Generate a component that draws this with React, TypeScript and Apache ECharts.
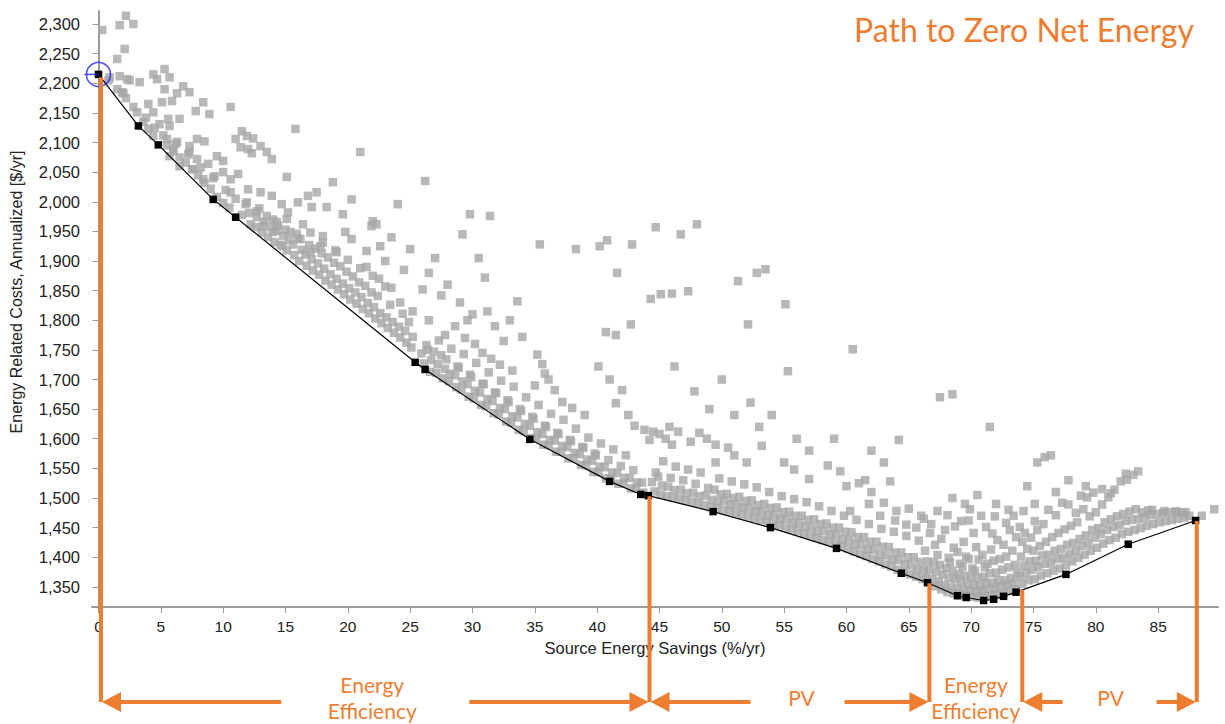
import React, { useEffect, useRef } from "react";
import * as echarts from "echarts";

// ---------- DATA ----------
const xTicks = [0, 5, 10, 15, 20, 25, 30, 35, 40, 45, 50, 55, 60, 65, 70, 75, 80, 85];
const yTicks = [1350, 1400, 1450, 1500, 1550, 1600, 1650, 1700, 1750, 1800, 1850, 1900, 1950, 2000, 2050, 2100, 2150, 2200, 2250, 2300];

// optimal path (Pareto front)
const frontier: [number, number][] = [
  [0, 2215], [3.2, 2128], [4.8, 2096], [9.2, 2004], [11.0, 1974], [25.4, 1729], [26.2, 1717],
  [34.6, 1599], [41.0, 1528], [43.5, 1506], [44.1, 1504], [49.3, 1477], [53.9, 1450],
  [59.2, 1415], [64.4, 1373], [66.5, 1357], [68.9, 1335], [69.6, 1332], [71.0, 1327],
  [71.8, 1329], [72.6, 1334], [73.6, 1341], [77.6, 1371], [82.6, 1422], [88.0, 1462],
];

// base case (selected point)
const baseline: [number, number][] = [[0, 2215]];

// all simulated designs
const cloudTopLeft: [number, number][] = [
  [0.3, 2290], [1.7, 2298], [2.2, 2314], [2.8, 2300], [2.1, 2258], [1.5, 2241],
  [0.9, 2210], [1.7, 2212], [2.3, 2207], [2.5, 2205], [3.3, 2202], [2.0, 2183], [1.9, 2185],
  [4.4, 2215], [4.7, 2207], [5.3, 2224], [5.7, 2210], [5.3, 2190], [6.3, 2183], [6.8, 2195], [7.3, 2185],
  [4.0, 2165], [5.1, 2168], [5.9, 2170], [8.4, 2168], [7.8, 2153], [8.9, 2148], [10.6, 2160],
  [3.1, 2151], [4.4, 2151], [5.6, 2140], [6.5, 2140], [4.9, 2131], [5.7, 2128],
  [15.8, 2123], [11.5, 2119], [11.9, 2111], [11.0, 2106], [12.4, 2107], [11.4, 2092], [13.0, 2094],
  [13.5, 2084], [12.3, 2082], [12.0, 2089], [13.9, 2072], [21.0, 2084],
  [4.0, 2123], [4.4, 2111], [5.5, 2106], [6.3, 2101], [7.9, 2106], [8.5, 2102], [7.3, 2094], [6.0, 2089],
  [7.3, 2084], [7.9, 2072], [9.5, 2077], [10.0, 2069], [8.8, 2064], [10.0, 2050], [11.2, 2047],
  [10.6, 2038], [9.3, 2043], [8.4, 2038], [7.6, 2055], [6.5, 2060], [5.7, 2077],
  [15.1, 2042], [13.0, 2016], [13.9, 2010], [16.8, 2010], [17.5, 2016], [18.8, 2033], [14.7, 1996],
  [16.0, 1999], [17.1, 1991], [18.3, 1991], [20.3, 2004], [19.6, 1979], [22.0, 1967],
  [12.0, 2021], [10.6, 2016], [11.9, 1999], [12.7, 1984], [13.5, 1976], [14.3, 1966], [15.1, 1971],
  [13.2, 1959], [14.0, 1949], [15.4, 1949], [16.2, 1937], [14.8, 1925], [18.0, 1942], [17.8, 1925],
  [19.8, 1949], [20.3, 1937], [21.5, 1917], [22.6, 1925], [21.9, 1959], [17.0, 1915], [19.1, 1915],
];

const cloudBandA: [number, number][] = [
  [0.8, 2205], [1.5, 2190], [2.2, 2175], [2.8, 2160], [3.6, 2135], [3.8, 2142], [4.5, 2125], [5.2, 2112],
  [5.5, 2095], [6.0, 2085], [6.2, 2098], [6.5, 2075], [7.0, 2066], [7.2, 2080], [7.5, 2055], [8.0, 2045],
  [8.2, 2058], [8.5, 2032], [9.0, 2022], [9.2, 2040], [9.5, 2008], [10.0, 1998], [10.2, 2020], [10.5, 1990],
  [11.0, 2005], [11.5, 1978],
];

const cloudBandB: [number, number][] = [
  [12.2, 1962], [12.1, 1981], [11.8, 1996], [12.6, 1957], [12.7, 1974], [13.1, 1948], [13.3, 1966], [12.9, 1989],
  [13.6, 1941], [13.8, 1957], [14.1, 1932], [14.3, 1951], [14.0, 1970], [14.6, 1927], [14.8, 1942], [14.4, 1960],
  [15.1, 1918], [15.3, 1936], [15.0, 1953], [15.2, 1982], [15.7, 1910], [15.6, 1928], [15.9, 1946],
  [16.1, 1900], [16.3, 1919], [16.0, 1938], [16.4, 1962], [16.7, 1892], [16.6, 1911], [16.9, 1927],
  [17.2, 1884], [17.1, 1903], [17.4, 1921], [17.0, 1948], [17.7, 1877], [17.6, 1896], [17.9, 1913],
  [18.2, 1867], [18.1, 1887], [18.4, 1906], [18.0, 1931], [18.7, 1860], [18.6, 1878], [18.9, 1897],
  [19.2, 1852], [19.1, 1870], [19.4, 1891], [19.0, 1918], [19.7, 1844], [19.6, 1862], [19.9, 1882],
  [20.2, 1835], [20.1, 1854], [20.4, 1874], [20.0, 1902], [20.7, 1828], [20.6, 1847], [20.9, 1864],
  [21.2, 1819], [21.1, 1839], [21.4, 1858], [21.0, 1888], [21.7, 1812], [21.6, 1829], [21.9, 1847],
  [22.2, 1803], [22.1, 1822], [22.4, 1841], [22.0, 1875], [22.7, 1795], [22.6, 1812], [23.2, 1787], [23.1, 1805],
  [23.4, 1826], [23.0, 1857], [23.7, 1779], [23.6, 1797], [24.2, 1771], [24.1, 1789], [24.4, 1811],
  [24.7, 1762], [24.6, 1782], [25.1, 1754], [25.2, 1772], [24.9, 1797],
];

const cloudBandC: [number, number][] = [
  [26.1, 1727], [25.9, 1744], [26.3, 1758], [26.6, 1713], [26.7, 1733], [26.4, 1750], [27.1, 1711], [27.2, 1726],
  [26.9, 1747], [27.3, 1766], [27.6, 1702], [27.8, 1718], [27.5, 1741], [28.1, 1697], [28.2, 1710], [27.9, 1734],
  [28.3, 1752], [28.7, 1687], [28.6, 1707], [28.8, 1722], [29.1, 1683], [29.2, 1697], [28.9, 1720], [29.3, 1743],
  [29.7, 1671], [29.6, 1692], [29.8, 1708], [30.1, 1668], [30.2, 1681], [29.9, 1704], [30.3, 1728], [30.7, 1657],
  [30.6, 1678], [30.8, 1693], [31.1, 1655], [31.2, 1667], [30.9, 1692], [31.3, 1712], [31.7, 1643], [31.6, 1664],
  [31.8, 1678], [32.1, 1641], [32.2, 1652], [31.9, 1677], [32.3, 1698], [32.7, 1629], [32.6, 1650], [32.8, 1665],
  [33.1, 1627], [33.2, 1638], [32.9, 1662], [33.3, 1688], [33.7, 1615], [33.6, 1636], [33.8, 1650], [34.1, 1613],
  [34.2, 1625], [33.9, 1647], [34.3, 1670], [34.7, 1601], [34.6, 1622], [34.8, 1637], [35.1, 1600], [35.2, 1611],
  [34.9, 1634], [35.3, 1657], [35.7, 1590], [35.6, 1608], [35.8, 1622], [36.1, 1589], [36.2, 1598], [35.9, 1620],
  [36.3, 1642], [36.7, 1578], [36.6, 1597], [36.8, 1610], [37.1, 1578], [37.2, 1588], [36.9, 1608], [37.3, 1632],
  [37.7, 1567], [37.6, 1586], [37.8, 1598], [38.1, 1567], [38.2, 1576], [37.9, 1596], [38.3, 1617], [38.7, 1556],
  [38.6, 1574], [38.8, 1586], [39.1, 1555], [39.2, 1565], [38.9, 1585], [39.3, 1602], [39.7, 1544], [39.6, 1563],
  [39.8, 1575], [40.1, 1544], [40.2, 1553], [39.9, 1572], [40.3, 1592], [40.7, 1533], [40.6, 1552], [41.1, 1533],
  [41.2, 1543], [40.9, 1564], [41.3, 1582], [41.7, 1524], [41.6, 1542], [42.1, 1525], [42.2, 1534], [41.9, 1554],
  [42.3, 1572], [42.7, 1516], [42.6, 1534], [43.1, 1517], [43.2, 1526], [42.9, 1547], [43.7, 1509], [43.6, 1526],
];

const cloudUpperMid: [number, number][] = [
  [26.2, 2035], [24.0, 1996], [22.3, 1962], [23.5, 1940], [25.0, 1920], [24.5, 1885], [27.0, 1905],
  [26.5, 1880], [28.0, 1860], [27.5, 1842], [26.0, 1852], [29.0, 1830], [29.8, 1979], [29.2, 1945],
  [31.4, 1976], [30.5, 1905], [31.0, 1872], [30.0, 1810], [31.8, 1790], [33.0, 1800], [32.5, 1765],
  [34.0, 1772], [35.4, 1928], [33.6, 1832], [35.2, 1742], [35.6, 1726], [35.8, 1710], [36.1, 1700],
  [35.0, 1690], [36.6, 1682], [37.2, 1662], [38.0, 1652], [39.0, 1640], [38.3, 1920], [40.2, 1925],
  [40.8, 1935], [42.8, 1928], [41.6, 1880], [40.7, 1780], [41.5, 1775], [42.7, 1793], [40.1, 1722],
  [41.0, 1700], [42.0, 1682], [41.5, 1660], [42.5, 1640], [43.0, 1622], [43.8, 1615], [44.5, 1612],
  [45.0, 1608], [44.2, 1598], [45.5, 1600], [46.0, 1590],
  [27.8, 1775], [28.6, 1790], [29.4, 1770], [30.2, 1760], [30.8, 1745], [31.5, 1735], [32.2, 1725],
  [33.2, 1715], [29.6, 1800], [31.2, 1815],
  [21.5, 1890], [22.5, 1870], [23.5, 1855], [24.2, 1830], [25.2, 1815], [26.5, 1800], [23.0, 1900],
];

const cloudBandD: [number, number][] = [
  [44.6, 1511], [44.4, 1527], [44.7, 1543], [45.1, 1506], [45.2, 1521], [44.9, 1536], [45.3, 1562], [45.6, 1503],
  [45.7, 1519], [46.1, 1501], [46.2, 1513], [45.9, 1534], [46.3, 1553], [46.6, 1499], [46.7, 1514], [47.1, 1496],
  [47.2, 1508], [46.9, 1530], [47.3, 1548], [47.6, 1494], [47.7, 1509], [48.1, 1491], [48.2, 1503], [47.9, 1524],
  [48.3, 1543], [48.6, 1488], [48.7, 1504], [49.1, 1485], [49.2, 1497], [48.9, 1517], [49.6, 1483], [49.7, 1494],
  [49.4, 1514], [49.8, 1533], [50.1, 1480], [50.2, 1495], [49.9, 1506], [50.6, 1478], [50.7, 1489], [50.4, 1507],
  [50.8, 1528], [51.1, 1475], [51.2, 1489], [50.9, 1500], [51.6, 1472], [51.7, 1484], [51.4, 1502], [51.8, 1523],
  [52.1, 1469], [52.2, 1483], [51.9, 1495], [52.6, 1466], [52.7, 1478], [52.4, 1496], [52.8, 1518], [53.1, 1463],
  [53.2, 1477], [52.9, 1488], [53.6, 1460], [53.7, 1471], [53.4, 1490], [53.8, 1510], [54.1, 1457], [54.2, 1471],
  [53.9, 1483], [54.6, 1454], [54.7, 1465], [54.4, 1484], [54.8, 1503], [55.1, 1450], [55.2, 1464], [54.9, 1476],
  [55.6, 1447], [55.7, 1458], [55.4, 1477], [55.8, 1498], [56.1, 1444], [56.2, 1458], [55.9, 1470], [56.6, 1440],
  [56.7, 1452], [56.4, 1470], [56.8, 1493], [57.1, 1437], [57.2, 1451], [56.9, 1463], [57.6, 1433], [57.7, 1444],
  [57.4, 1464], [57.8, 1486], [58.1, 1429], [58.2, 1444], [57.9, 1456], [58.6, 1426], [58.7, 1438], [58.4, 1457],
  [58.8, 1478], [59.1, 1423], [59.2, 1437], [58.9, 1450], [59.6, 1419], [59.7, 1430], [59.4, 1450], [59.8, 1470],
  [60.1, 1415], [60.2, 1429], [59.9, 1443], [60.6, 1410], [60.7, 1422], [60.4, 1442], [60.8, 1463], [61.1, 1406],
  [61.2, 1421], [60.9, 1434], [61.6, 1402], [61.7, 1413], [61.4, 1434], [61.8, 1456], [62.1, 1397], [62.2, 1412],
  [61.9, 1426], [62.6, 1393], [62.7, 1404], [62.4, 1426], [62.8, 1448], [63.1, 1388], [63.2, 1403], [62.9, 1418],
  [63.6, 1384], [63.7, 1396], [63.4, 1417], [63.8, 1443], [64.1, 1379], [64.2, 1395], [63.9, 1408], [64.6, 1375],
  [64.7, 1388], [64.4, 1408], [64.8, 1436], [65.1, 1371], [65.2, 1386], [64.9, 1400], [65.6, 1367], [65.7, 1379],
  [65.4, 1400], [65.8, 1428], [66.1, 1363], [66.2, 1378], [65.9, 1392],
];

const cloudUpperRight: [number, number][] = [
  [44.7, 1957], [46.7, 1945], [48.0, 1962], [44.3, 1836], [45.1, 1844], [46.0, 1845], [47.3, 1849],
  [51.3, 1866], [52.8, 1880], [53.5, 1886], [52.1, 1793], [55.1, 1827], [55.3, 1714], [60.5, 1751],
  [52.3, 1661], [50.0, 1700], [47.8, 1680], [46.2, 1722], [49.0, 1650], [51.0, 1640], [53.0, 1620],
  [54.0, 1640], [56.0, 1600], [57.0, 1580], [59.0, 1600], [62.0, 1580], [63.0, 1560], [64.2, 1598],
  [48.2, 1610], [48.8, 1600], [49.5, 1590], [47.5, 1595], [46.5, 1612], [45.8, 1620],
  [49.5, 1560], [50.5, 1585], [51.0, 1572], [52.0, 1560], [53.2, 1588], [55.0, 1560], [55.8, 1548],
  [57.0, 1532], [58.5, 1555], [59.5, 1545], [60.0, 1520], [61.0, 1525], [62.0, 1510], [63.0, 1492],
  [64.0, 1478], [65.0, 1482], [66.0, 1470], [61.5, 1530], [63.5, 1528],
  [67.5, 1670], [68.5, 1675], [71.5, 1620],
  [60.3, 1478], [61.8, 1490], [62.7, 1470], [63.9, 1462], [64.8, 1455], [65.6, 1450], [66.2, 1465],
  [67.3, 1478], [68.7, 1452], [69.8, 1462], [70.8, 1470], [71.7, 1440], [72.8, 1458], [73.4, 1470],
  [74.2, 1478], [75.1, 1490], [76.2, 1480], [77.3, 1492], [78.4, 1475],
];

const cloudBottom: [number, number][] = [
  [66.4, 1365], [66.6, 1379], [66.5, 1393], [66.3, 1411], [66.7, 1441],
  [67.1, 1351], [66.9, 1363], [67.2, 1376], [67.0, 1391], [67.1, 1421], [66.8, 1456],
  [67.6, 1346], [67.4, 1359], [67.7, 1371], [67.5, 1387], [67.3, 1404], [67.6, 1431],
  [68.1, 1341], [67.9, 1353], [68.2, 1365], [68.0, 1381], [68.2, 1399], [67.9, 1446], [68.1, 1471],
  [68.6, 1339], [68.4, 1349], [68.7, 1363], [68.5, 1377], [68.3, 1391], [68.6, 1416],
  [69.1, 1337], [68.9, 1347], [69.2, 1359], [69.0, 1371], [69.1, 1389], [68.9, 1409], [69.2, 1461],
  [69.6, 1335], [69.4, 1345], [69.7, 1355], [69.5, 1369], [69.3, 1384], [69.6, 1401], [69.4, 1426],
  [70.1, 1333], [69.9, 1343], [70.2, 1353], [70.0, 1367], [70.1, 1381], [69.8, 1397], [70.2, 1441], [69.9, 1481],
  [70.6, 1332], [70.4, 1341], [70.7, 1351], [70.5, 1365], [70.3, 1377], [70.6, 1396], [70.4, 1417],
  [71.1, 1334], [70.9, 1344], [71.2, 1356], [71.0, 1367], [71.1, 1383], [70.9, 1404], [71.2, 1451],
  [71.6, 1335], [71.4, 1346], [71.7, 1357], [71.5, 1373], [71.3, 1389], [71.6, 1413],
  [72.1, 1337], [71.9, 1347], [72.2, 1361], [72.0, 1374], [71.8, 1394], [72.1, 1429], [71.9, 1469],
  [72.6, 1339], [72.4, 1351], [72.7, 1361], [72.5, 1379], [72.3, 1397], [72.6, 1421],
  [73.1, 1343], [72.9, 1354], [73.2, 1365], [73.0, 1383], [72.8, 1401], [73.1, 1446],
  [73.6, 1346], [73.4, 1357], [73.7, 1373], [73.5, 1387], [73.3, 1411], [73.6, 1434],
];

const cloudBandF: [number, number][] = [
  [74.1, 1355], [73.9, 1368], [74.2, 1386], [74.0, 1401], [74.1, 1426], [73.9, 1451],
  [74.6, 1361], [74.4, 1374], [74.7, 1393], [74.5, 1414], [74.3, 1441],
  [75.1, 1363], [74.9, 1379], [75.2, 1394], [75.0, 1411], [74.8, 1433], [75.1, 1461],
  [75.6, 1369], [75.4, 1384], [75.7, 1403], [75.5, 1419], [75.3, 1446],
  [76.1, 1373], [75.9, 1389], [76.2, 1404], [76.0, 1426], [75.8, 1456],
  [76.6, 1377], [76.4, 1391], [76.7, 1411], [76.5, 1434],
  [77.1, 1381], [76.9, 1397], [77.2, 1414], [77.0, 1441], [76.8, 1471],
  [77.6, 1386], [77.4, 1399], [77.7, 1421], [77.5, 1447],
  [78.1, 1393], [77.9, 1406], [78.2, 1424], [78.0, 1453], [77.8, 1489],
  [78.6, 1399], [78.4, 1411], [78.7, 1431], [78.5, 1459],
  [79.1, 1404], [78.9, 1419], [79.2, 1437], [79.0, 1481], [78.8, 1504],
  [79.6, 1411], [79.4, 1424], [79.7, 1446], [79.5, 1469], [79.3, 1501],
  [80.1, 1416], [79.9, 1433], [80.2, 1449], [80.0, 1476], [79.8, 1509],
  [80.6, 1423], [80.4, 1439], [80.7, 1459], [80.5, 1489],
  [81.1, 1429], [80.9, 1446], [81.2, 1464], [81.0, 1501], [81.6, 1433], [81.4, 1451], [81.7, 1469], [81.5, 1514],
  [82.1, 1439], [81.9, 1454], [82.2, 1473], [82.6, 1443], [82.4, 1461], [82.7, 1477], [82.5, 1531],
  [83.1, 1446], [82.9, 1463], [83.2, 1481], [83.0, 1539], [83.6, 1449], [83.4, 1464], [83.7, 1476],
  [84.1, 1453], [83.9, 1467], [84.2, 1479], [84.6, 1456], [84.4, 1471], [85.1, 1459], [84.9, 1473],
  [85.6, 1461], [85.4, 1475], [86.1, 1463], [85.9, 1476], [86.6, 1465], [86.4, 1477], [87.1, 1467], [86.9, 1475],
  [87.5, 1470],
  [68.5, 1500], [69.5, 1490], [70.5, 1505], [72, 1490], [73, 1480], [75.9, 1569], [76.4, 1572],
  [75.3, 1560], [74.5, 1520], [76.8, 1510], [77.8, 1530], [79.2, 1520], [80.5, 1515], [81.2, 1508],
  [82.4, 1541], [82.0, 1528], [83.4, 1545], [84.5, 1480], [85.5, 1478], [86.5, 1477], [87.2, 1476],
  [89.5, 1481], [88.5, 1470],
];

// annotation: where the path changes strategy
const boundaryX = [0.2, 44.2, 66.65, 74.1, 88.1];
const boundaryY = [2210, 1503, 1356, 1345, 1461];
const segmentLabels = ["Energy\nEfficiency", "PV", "Energy\nEfficiency", "PV"];
const segmentArrows = [true, true, false, true];

const titleText = "Path to Zero Net Energy";
const xName = "Source Energy Savings (%/yr)";
const yName = "Energy Related Costs, Annualized [$/yr]";

// ---------- STYLE ----------
const ORANGE = "#ED7D31";
const AXIS_FONT = "'Liberation Sans', Arial, sans-serif";
const ANNOT_FONT = "Lato, 'Open Sans', sans-serif";

export default function App() {
  const ref = useRef<HTMLDivElement>(null);

  useEffect(() => {
    if (!ref.current) return;
    const chart = echarts.init(ref.current, undefined, { renderer: "svg" });
    const cloud = [
      ...cloudTopLeft, ...cloudBandA, ...cloudBandB, ...cloudBandC, ...cloudUpperMid,
      ...cloudBandD, ...cloudUpperRight, ...cloudBottom, ...cloudBandF,
    ];
    chart.setOption({
      animation: false,
      backgroundColor: "#fff",
      title: {
        text: titleText,
        right: 26,
        top: 8,
        textStyle: { color: ORANGE, fontSize: 32, fontWeight: "normal", fontFamily: ANNOT_FONT },
      },
      grid: { left: 92, right: 7, top: 11, bottom: 117, containLabel: false },
      xAxis: {
        type: "value",
        min: -0.52,
        max: 89.8,
        name: xName,
        nameLocation: "middle",
        nameGap: 32,
        nameTextStyle: { fontSize: 16.5, color: "#222", fontFamily: AXIS_FONT },
        splitLine: { show: false },
        axisLine: { show: true, lineStyle: { color: "#9a9a9a", width: 2 } },
        axisTick: { show: true, customValues: xTicks, length: 6, lineStyle: { color: "#9a9a9a", width: 1 } },
        axisLabel: { customValues: xTicks, margin: 11, fontSize: 15.5, color: "#222", fontFamily: AXIS_FONT },
      },
      yAxis: {
        type: "value",
        min: 1316,
        max: 2322,
        splitLine: { show: false },
        axisLine: { show: true, lineStyle: { color: "#9a9a9a", width: 2 } },
        axisTick: { show: true, customValues: yTicks, length: 6, lineStyle: { color: "#9a9a9a", width: 1 } },
        axisLabel: {
          customValues: yTicks,
          margin: 12,
          fontSize: 16.5,
          color: "#222",
          fontFamily: AXIS_FONT,
          formatter: (v: number) => v.toLocaleString("en-US"),
        },
      },
      series: [
        {
          type: "scatter",
          data: cloud,
          symbol: "rect",
          symbolSize: 8.5,
          itemStyle: { color: "#a6a6a6" },
          clip: false,
          z: 1,
        },
        {
          type: "line",
          data: frontier,
          symbol: "rect",
          symbolSize: 7.5,
          showAllSymbol: true,
          lineStyle: { color: "#000", width: 1.2 },
          itemStyle: { color: "#000" },
          clip: false,
          z: 3,
        },
        {
          type: "scatter",
          data: baseline,
          symbol: "circle",
          symbolSize: 24,
          itemStyle: { color: "rgba(0,0,0,0)", borderColor: "#2323ff", borderWidth: 1.5 },
          clip: false,
          z: 4,
        },
        {
          type: "scatter",
          data: baseline,
          symbol: "rect",
          symbolSize: [14, 1.5],
          symbolOffset: [-7, 0],
          itemStyle: { color: "#2323ff" },
          clip: false,
          z: 4,
        },
      ],
    });

    // annotation geometry derived from the axes
    const arrowY = 702;
    const bx = boundaryX.map((x, i) => chart.convertToPixel({ seriesIndex: 0 }, [x, boundaryY[i]]) as number[]);
    const graphics: any[] = [
      {
        type: "text",
        x: 16,
        y: 292,
        rotation: Math.PI / 2,
        style: {
          text: yName,
          fill: "#222",
          fontSize: 16,
          fontFamily: AXIS_FONT,
          align: "center",
          verticalAlign: "middle",
        },
      },
    ];
    bx.forEach((p) => {
      graphics.push({
        type: "line",
        z: 100,
        shape: { x1: p[0], y1: p[1], x2: p[0], y2: arrowY },
        style: { stroke: ORANGE, lineWidth: 4 },
      });
    });
    const headLen = 19;
    const headHalf = 10;
    const gaps = [94, 47, 0, 47];
    const labelShift = [-3, 12, 0, 1];
    segmentLabels.forEach((label, i) => {
      const a = bx[i][0];
      const b = bx[i + 1][0];
      const mid = (a + b) / 2;
      const c = mid + labelShift[i];
      graphics.push({
        type: "text",
        z: 100,
        x: c,
        y: arrowY - 5,
        style: {
          text: label,
          fill: ORANGE,
          fontSize: 21,
          fontFamily: ANNOT_FONT,
          align: "center",
          verticalAlign: "middle",
          lineHeight: 26,
        },
      });
      if (segmentArrows[i]) {
        const g = gaps[i];
        const sc = mid + (i === 1 ? 8 : 0);
        graphics.push({
          type: "line",
          z: 100,
          shape: { x1: a + headLen, y1: arrowY, x2: sc - g, y2: arrowY },
          style: { stroke: ORANGE, lineWidth: 4 },
        });
        graphics.push({
          type: "polygon",
          z: 100,
          shape: { points: [[a + 1, arrowY], [a + headLen + 1, arrowY - headHalf], [a + headLen + 1, arrowY + headHalf]] },
          style: { fill: ORANGE },
        });
        graphics.push({
          type: "line",
          z: 100,
          shape: { x1: sc + g, y1: arrowY, x2: b - headLen, y2: arrowY },
          style: { stroke: ORANGE, lineWidth: 4 },
        });
        graphics.push({
          type: "polygon",
          z: 100,
          shape: { points: [[b - 1, arrowY], [b - headLen - 1, arrowY - headHalf], [b - headLen - 1, arrowY + headHalf]] },
          style: { fill: ORANGE },
        });
      }
    });
    chart.setOption({ graphic: graphics });

    return () => chart.dispose();
  }, []);

  return (
    <div
      ref={ref}
      style={{ position: "fixed", left: 0, top: 0, width: 1225, height: 724, background: "#fff" }}
    />
  );
}
